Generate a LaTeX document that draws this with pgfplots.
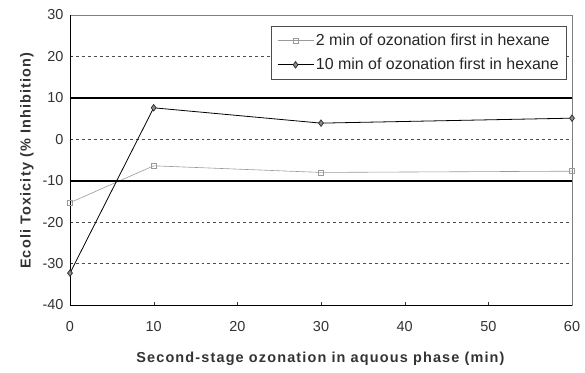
\documentclass[border=0pt]{standalone}
\usepackage{fontspec}
\setmainfont{Liberation Sans}
\usepackage{pgfplots}
\pgfplotsset{compat=1.18}
\begin{document}
\begin{tikzpicture}[x=1bp,y=1bp]
\path[use as bounding box] (-70,-67) rectangle (515,305);
\begin{axis}[
  at={(0,0)}, anchor=south west,
  scale only axis, width=502bp, height=290bp,
  xmin=0, xmax=60, ymin=-40, ymax=30,
  xtick={0,10,...,60}, ytick={-40,-30,...,30},
  ymajorgrids, grid style={black!70, dashed, line width=0.5pt},
  axis line style={black!50, line width=0.6pt},
  tick style={black!80},
  tick align=inside, major tick length=3bp,
  xtick pos=left, ytick pos=left,
  /pgf/number format/assume math mode=true,
  tick label style={font=\fontsize{14.5}{16}\selectfont, text=black!80},
  xticklabel style={yshift=-13bp},
  yticklabel style={xshift=-3bp},
  xlabel={\textbf{Second-stage ozonation in aquous phase (min)}},
  ylabel={\textbf{Ecoli Toxicity (\% Inhibition)}},
  label style={font=\fontsize{14.5}{16}\selectfont\addfontfeatures{LetterSpace=8}, text=black!80},
  xlabel style={at={(axis description cs:0.5,0)}, anchor=center, yshift=-54bp},
  ylabel style={at={(axis description cs:0,0.5)}, anchor=center, yshift=43bp},
  legend style={at={(0.990,0.962)}, anchor=north east, draw=black!70, line width=0.5pt,
    font=\fontsize{16}{18}\selectfont, row sep=7bp, inner xsep=6bp, inner ysep=6bp, cells={anchor=west}, text=black!85},
  legend cell align=left,
  legend image code/.code={\draw[mark repeat=2,mark phase=2] plot coordinates {(0bp,0bp) (18bp,0bp) (36bp,0bp)};},
]
\addplot[black!40, line width=0.6pt, mark=square, mark size=2.4bp, mark options={solid, draw=black!40, fill=white}]
  coordinates {(0,-15.3) (10,-6.4) (30,-8.0) (60,-7.7)};
\addlegendentry{2 min of ozonation first in hexane}
\addplot[black, line width=0.8pt, mark=diamond*, mark size=3.2bp, mark options={solid, draw=black!80, fill=black!45}]
  coordinates {(0,-32.3) (10,7.6) (30,3.9) (60,5.1)};
\addlegendentry{10 min of ozonation first in hexane}
\addplot[black, line width=2.4pt, forget plot] coordinates {(0,10) (60,10)};
\addplot[black, line width=2.4pt, forget plot] coordinates {(0,-10) (60,-10)};
\draw[black, line width=0.8pt] (axis cs:0,-40) -- (axis cs:0,30);
\draw[black, line width=0.8pt] (axis cs:0,-40) -- (axis cs:60,-40);
\end{axis}
\end{tikzpicture}
\end{document}
